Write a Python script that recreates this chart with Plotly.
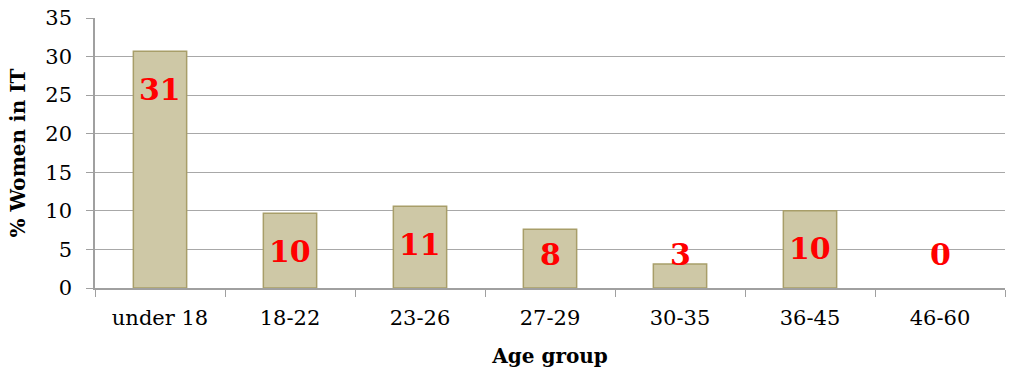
import plotly.graph_objects as go

categories = ["under 18", "18-22", "23-26", "27-29", "30-35", "36-45", "46-60"]
values = [30.7, 9.7, 10.6, 7.6, 3.1, 10.0, 0.0]
labels = ["31", "10", "11", "8", "3", "10", "0"]

FONT = "DejaVu Serif"

fig = go.Figure()
fig.add_trace(go.Bar(
    x=categories, y=values, width=0.41,
    marker=dict(color="rgb(206,200,166)",
                line=dict(color="rgb(168,158,105)",
                          width=[1.5 if v > 0 else 0 for v in values])),
    hoverinfo="skip",
))

for c, v, t in zip(categories, values, labels):
    ly = max(v - 4.93, 4.28)
    fig.add_annotation(x=c, y=ly, text=t, showarrow=False,
                       font=dict(family=FONT, size=30, color="#FF0000", weight="bold"),
                       yanchor="middle", xanchor="center")

fig.update_layout(
    width=1010, height=372,
    margin=dict(l=95, r=5, t=18, b=84),
    paper_bgcolor="white", plot_bgcolor="white",
    showlegend=False,
    font=dict(family=FONT, size=21, color="black"),
)
fig.update_xaxes(
    type="category", tickson="boundaries", ticks="outside", ticklen=7,
    tickcolor="#A0A0A0", showline=True, linecolor="#A0A0A0", linewidth=1.5,
    showgrid=False, ticklabelstandoff=10,
    title=dict(text="<b>Age group</b>", font=dict(family=FONT, size=20), standoff=20),
    tickfont=dict(family=FONT, size=21),
)
fig.update_yaxes(
    range=[0, 35], dtick=5, ticks="outside", ticklen=7, tickcolor="#A0A0A0",
    showline=True, linecolor="#A0A0A0", linewidth=1.5, ticklabelstandoff=10,
    showgrid=True, gridcolor="#A8A8A8", gridwidth=1.2, zeroline=False,
    title=dict(text="<b>% Women in IT</b>", font=dict(family=FONT, size=20), standoff=14),
    tickfont=dict(family=FONT, size=21),
)

fig.write_html("out.html")
